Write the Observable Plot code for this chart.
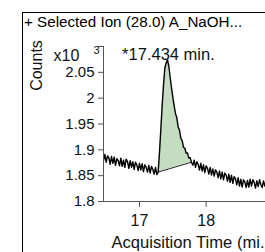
<!DOCTYPE html>
<html><head><meta charset="utf-8">
<script src="https://cdn.jsdelivr.net/npm/d3@7"></script>
<script src="https://cdn.jsdelivr.net/npm/@observablehq/plot@0.6"></script>
<style>
body{margin:0;width:265px;height:252px;overflow:hidden;background:#fff;font-family:"Liberation Sans",Arial,sans-serif;position:relative}
#frame{position:absolute;left:22px;top:12px;width:400px;height:400px;border:1px solid #000;box-sizing:border-box}
#title{position:absolute;left:24px;top:13px;font-size:15.2px;line-height:18px;white-space:nowrap;color:#000}
#chart{position:absolute;left:0;top:32px}
</style></head>
<body>
<div id="frame"></div>
<div id="title"></div>
<div id="chart"></div>
<script>
const titleText = "+ Selected Ion (28.0) A_NaOH...";
const xLabel = "Acquisition Time (mi...";
const yLabel = "Counts";
const peakLabel = "*17.434 min.";
const peakTime = 17.434;
const xTicks = [17, 18];
const yTicks = [1.8, 1.85, 1.9, 1.95, 2, 2.05, 2.1];
const tStart = 16.46, tStep = 0.02;
const values = [
 1.879,1.891,1.876,1.888,1.885,1.872,1.887,1.874,1.886,1.870,
 1.883,1.879,1.869,1.884,1.868,1.880,1.866,1.882,1.877,1.864,
 1.879,1.866,1.877,1.862,1.876,1.871,1.860,1.874,1.861,1.873,
 1.858,1.871,1.866,1.857,1.870,1.855,1.868,1.862,1.853,1.866,
 1.852,1.857,
 1.895,1.940,1.985,2.025,2.058,2.068,2.074,2.062,2.040,2.020,
 2.002,1.985,1.970,1.962,1.944,1.938,1.922,1.918,1.905,1.903,
 1.894,1.894,1.884,1.885,1.876,
 1.870,1.880,1.866,1.877,1.872,1.861,1.874,1.859,1.871,1.856,
 1.869,1.864,1.853,1.866,1.851,1.863,1.849,1.861,1.857,1.846,
 1.859,1.844,1.857,1.842,1.855,1.851,1.839,1.853,1.837,1.851,
 1.835,1.848,1.844,1.832,1.846,1.830,1.843,1.828,1.842,1.838,
 1.827,1.841,1.828,1.843,1.830,1.842,1.837,1.826,1.840,1.829,
 1.842,1.833,1.827,1.840,1.830,1.838
];
const peakBaseline = [{t:17.28, v:1.857}, {t:17.78, v:1.876}];

document.getElementById("title").textContent = titleText;

const trace = values.map((v, i) => ({t: +(tStart + i * tStep).toFixed(2), v}));
const bl = d3.scaleLinear().domain(peakBaseline.map(d => d.t)).range(peakBaseline.map(d => d.v));
const peak = trace.filter(d => d.t >= 17.28 - 1e-9 && d.t <= 17.78 + 1e-9).map(d => ({t: d.t, v: d.v, b: bl(d.t)}));

const chart = Plot.plot({
  width: 265, height: 220,
  marginTop: 14, marginLeft: 103, marginRight: 0, marginBottom: 51,
  style: {fontFamily: "Liberation Sans, Arial, sans-serif", fontSize: "15px", color: "#111", background: "transparent", overflow: "visible"},
  x: {domain: [16.46, 18.89]},
  y: {domain: [1.8, 2.1]},
  marks: [
    Plot.areaY(peak, {x: "t", y1: "b", y2: "v", fill: "#c4dcc0", fillOpacity: 1}),
    Plot.line(peakBaseline, {x: "t", y: "v", stroke: "#222", strokeWidth: 1}),
    Plot.line(trace, {x: "t", y: "v", stroke: "#000", strokeWidth: 1.4, clip: true}),
    Plot.ruleX([16.46], {stroke: "#555"}),
    Plot.ruleY([1.8], {stroke: "#555"}),
    Plot.axisY({ticks: yTicks, tickFormat: d => d === 2.1 ? "" : String(+d.toFixed(2)), tickSize: 5, tickPadding: 4, label: null, stroke: "#555"}),
    Plot.axisX({ticks: xTicks, tickFormat: d => String(d), tickSize: 6, tickPadding: 7, label: null, stroke: "#555", fontSize: 16}),
    Plot.text([peakLabel], {x: [peakTime], frameAnchor: "top", dy: 2, fontSize: 16.5, fill: "#111"}),
    Plot.text([xLabel], {frameAnchor: "bottom-left", textAnchor: "start", dx: 8, dy: 46, fontSize: 16.6, fill: "#111"}),
    Plot.text([yLabel], {frameAnchor: "top-left", textAnchor: "middle", lineAnchor: "middle", dx: -67, dy: 19, rotate: -90, fontSize: 16, fill: "#111"}),
    Plot.text(["x10"], {frameAnchor: "top-left", textAnchor: "start", dx: -50, dy: 3, fontSize: 16, fill: "#111"}),
    Plot.text(["3"], {frameAnchor: "top-left", textAnchor: "start", dx: -10, dy: 0, fontSize: 11, fill: "#111"})
  ]
});
document.getElementById("chart").appendChild(chart);
</script>
</body></html>
